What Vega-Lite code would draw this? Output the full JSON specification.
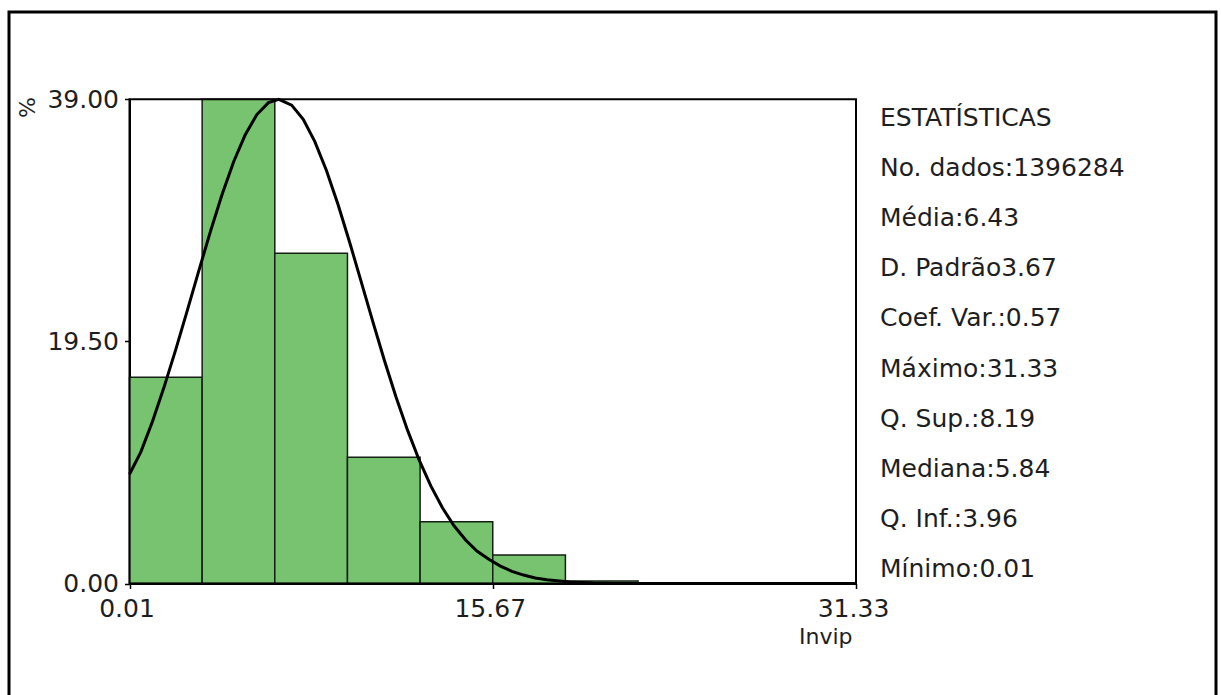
{
  "$schema": "https://vega.github.io/schema/vega-lite/v6.json",
  "width": 1207,
  "height": 686,
  "autosize": {"type": "none"},
  "padding": {"left": 9, "top": 12, "right": 5, "bottom": -3},
  "background": "white",
  "config": {
    "font": "DejaVu Sans",
    "view": {"stroke": "black", "strokeWidth": 3},
    "axis": {
      "labelFont": "DejaVu Sans",
      "titleFont": "DejaVu Sans",
      "labelColor": "#1e1e1e",
      "titleColor": "#1e1e1e",
      "tickColor": "black",
      "domainColor": "black",
      "grid": false,
      "labelFlush": false,
      "labelOverlap": false,
      "titleFontWeight": "normal"
    }
  },
  "datasets": {
    "classes": [
      {"inicio": 0.01, "fim": 3.142, "pct": 16.61},
      {"inicio": 3.142, "fim": 6.274, "pct": 39.0},
      {"inicio": 6.274, "fim": 9.406, "pct": 26.6},
      {"inicio": 9.406, "fim": 12.538, "pct": 10.17},
      {"inicio": 12.538, "fim": 15.67, "pct": 4.98},
      {"inicio": 15.67, "fim": 18.802, "pct": 2.3},
      {"inicio": 18.802, "fim": 21.934, "pct": 0.2},
      {"inicio": 21.934, "fim": 25.066, "pct": 0.06},
      {"inicio": 25.066, "fim": 28.198, "pct": 0.02},
      {"inicio": 28.198, "fim": 31.33, "pct": 0.01}
    ],
    "curva": [
      {"x": 0.01, "pct": 8.8},
      {"x": 0.5, "pct": 10.6},
      {"x": 1.0, "pct": 13.05},
      {"x": 1.5, "pct": 15.82},
      {"x": 2.0, "pct": 18.82},
      {"x": 2.5, "pct": 21.98},
      {"x": 3.0, "pct": 25.2},
      {"x": 3.5, "pct": 28.36},
      {"x": 4.0, "pct": 31.33},
      {"x": 4.5, "pct": 33.97},
      {"x": 5.0, "pct": 36.15},
      {"x": 5.5, "pct": 37.77},
      {"x": 6.0, "pct": 38.73},
      {"x": 6.45, "pct": 39.0},
      {"x": 7.0, "pct": 38.53},
      {"x": 7.5, "pct": 37.38},
      {"x": 8.0, "pct": 35.59},
      {"x": 8.5, "pct": 33.26},
      {"x": 9.0, "pct": 30.52},
      {"x": 9.5, "pct": 27.49},
      {"x": 10.0, "pct": 24.3},
      {"x": 10.5, "pct": 21.09},
      {"x": 11.0, "pct": 17.96},
      {"x": 11.5, "pct": 15.02},
      {"x": 12.0, "pct": 12.33},
      {"x": 12.5, "pct": 9.93},
      {"x": 13.0, "pct": 7.86},
      {"x": 13.5, "pct": 6.1},
      {"x": 14.0, "pct": 4.65},
      {"x": 14.5, "pct": 3.5},
      {"x": 15.0, "pct": 2.6},
      {"x": 15.5, "pct": 1.95},
      {"x": 16.0, "pct": 1.4},
      {"x": 16.5, "pct": 0.98},
      {"x": 17.0, "pct": 0.68},
      {"x": 17.5, "pct": 0.45},
      {"x": 18.0, "pct": 0.3},
      {"x": 19.0, "pct": 0.12},
      {"x": 20.0, "pct": 0.04},
      {"x": 21.0, "pct": 0.01},
      {"x": 22.0, "pct": 0.0},
      {"x": 31.33, "pct": 0.0}
    ],
    "estatisticas": [
      {"ordem": 1, "rotulo": "ESTATÍSTICAS"},
      {"ordem": 2, "rotulo": "No. dados:1396284"},
      {"ordem": 3, "rotulo": "Média:6.43"},
      {"ordem": 4, "rotulo": "D. Padrão3.67"},
      {"ordem": 5, "rotulo": "Coef. Var.:0.57"},
      {"ordem": 6, "rotulo": "Máximo:31.33"},
      {"ordem": 7, "rotulo": "Q. Sup.:8.19"},
      {"ordem": 8, "rotulo": "Mediana:5.84"},
      {"ordem": 9, "rotulo": "Q. Inf.:3.96"},
      {"ordem": 10, "rotulo": "Mínimo:0.01"}
    ]
  },
  "resolve": {"scale": {"y": "independent"}},
  "layer": [
    {
      "layer": [
        {
          "data": {"name": "classes"},
          "mark": {"type": "rect", "fill": "#77c36f", "stroke": "#142014", "strokeWidth": 1.5},
          "encoding": {
            "x": {
              "field": "inicio",
              "type": "quantitative",
              "scale": {"domain": [0.01, 31.33], "range": [120.5, 847], "nice": false, "zero": false},
              "axis": {
                "orient": "bottom",
                "offset": -114.5,
                "values": [0.01, 15.67, 31.33],
                "format": ".2f",
                "tickSize": 5,
                "tickWidth": 1.5,
                "domainWidth": 2,
                "labelFontSize": 25,
                "labelPadding": 8,
                "labelOffset": -3,
                "title": "Invip",
                "titleFontSize": 22,
                "titleAlign": "right",
                "titleBaseline": "middle",
                "titleX": 843,
                "titleY": 53
              }
            },
            "x2": {"field": "fim"},
            "y": {
              "field": "pct",
              "type": "quantitative",
              "scale": {"domain": [0, 39], "range": [571.5, 87.3], "nice": false, "zero": false},
              "axis": {
                "orient": "left",
                "offset": -120.5,
                "values": [0, 19.5, 39],
                "format": ".2f",
                "tickSize": 5,
                "tickWidth": 1.5,
                "domainWidth": 2,
                "labelFontSize": 25,
                "labelPadding": 6,
                "title": "%",
                "titleFontSize": 22,
                "titleAngle": -90,
                "titleAlign": "center",
                "titleBaseline": "middle",
                "titleX": -102,
                "titleY": 95
              }
            },
            "y2": {"datum": 0}
          }
        },
        {
          "data": {"values": [{}]},
          "mark": {"type": "rect", "fill": null, "stroke": "black", "strokeWidth": 2},
          "encoding": {
            "x": {"datum": 0.01, "type": "quantitative"},
            "x2": {"datum": 31.33},
            "y": {"datum": 0, "type": "quantitative"},
            "y2": {"datum": 39}
          }
        },
        {
          "data": {"name": "curva"},
          "mark": {"type": "line", "color": "black", "strokeWidth": 3, "interpolate": "linear"},
          "encoding": {
            "x": {"field": "x", "type": "quantitative"},
            "y": {"field": "pct", "type": "quantitative"}
          }
        }
      ]
    },
    {
      "data": {"name": "estatisticas"},
      "mark": {"type": "text", "align": "left", "baseline": "middle", "fontSize": 25, "color": "#1e1e1e"},
      "encoding": {
        "x": {"value": 871},
        "y": {
          "field": "ordem",
          "type": "quantitative",
          "scale": {"domain": [1, 10], "range": [106, 557], "nice": false, "zero": false},
          "axis": null
        },
        "text": {"field": "rotulo"}
      }
    }
  ]
}
